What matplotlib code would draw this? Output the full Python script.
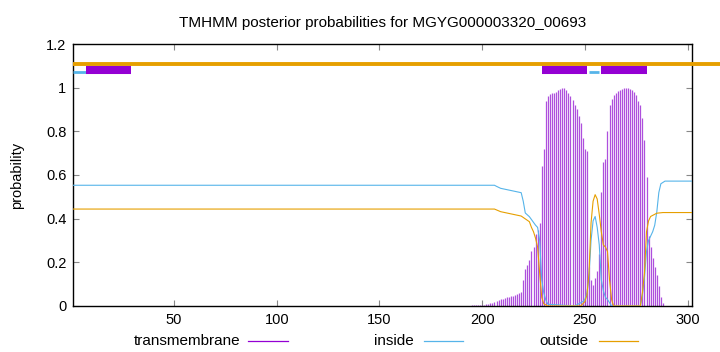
import numpy as np
import matplotlib
matplotlib.use("Agg")
import matplotlib.pyplot as plt
from matplotlib.lines import Line2D
from matplotlib.ticker import FuncFormatter

plt.rcParams["font.family"] = ["Liberation Sans", "DejaVu Sans"]

title = "TMHMM posterior probabilities for MGYG000003320_00693"
seq_len = 302

# predicted topology (drawn as bars above the plot)
tm_segments = [(7, 29), (229, 251), (258, 280)]
inside_segments = [(1, 7), (252, 257)]
outside_segments = [(1, 330)]

# per-residue transmembrane posterior, residues 178..288
tm_first = 178
tm_prob = [
    0.002, 0.002, 0.002, 0.002, 0.002, 0.002, 0.002, 0.002, 0.002, 0.002,
    0.002, 0.002, 0.002, 0.002, 0.002, 0.002, 0.002, 0.003, 0.003, 0.003,
    0.003, 0.004, 0.004,
    0.005, 0.008, 0.010, 0.012, 0.015, 0.018, 0.022, 0.026, 0.030, 0.033,
    0.036, 0.039, 0.042, 0.045, 0.048, 0.052, 0.055, 0.058, 0.062, 0.12,
    0.17, 0.19, 0.21, 0.25, 0.27, 0.33, 0.35, 0.38, 0.64, 0.72,
    0.94, 0.96, 0.97, 0.975, 0.975, 0.98, 0.99, 0.995, 0.997, 0.997,
    0.99, 0.975, 0.96, 0.945, 0.92, 0.90, 0.87, 0.84, 0.77, 0.72,
    0.71, 0.18, 0.12, 0.095, 0.13, 0.16, 0.24, 0.52, 0.66, 0.675,
    0.80, 0.92, 0.95, 0.965, 0.975, 0.985, 0.99, 0.995, 0.997, 0.997,
    0.997, 0.995, 0.99, 0.98, 0.965, 0.94, 0.92, 0.86, 0.76, 0.59,
    0.32, 0.27, 0.22, 0.18, 0.14, 0.09, 0.04, 0.012,
]

inside_pos = [1, 206, 207, 209, 219, 220, 221, 223, 226, 227, 228, 229, 230,
              231, 232, 245, 247, 249, 250, 251, 252, 253, 254, 255, 256, 257,
              258, 259, 260, 261, 262, 263, 277, 278, 279, 280, 281, 282, 283,
              284, 285, 286, 287, 289, 302]
inside_prob = [0.553, 0.553, 0.548, 0.539, 0.519, 0.48, 0.426, 0.409, 0.37,
               0.36, 0.30, 0.12, 0.06, 0.027, 0.008, 0.0, 0.01, 0.02, 0.03,
               0.06, 0.13, 0.30, 0.39, 0.41, 0.36, 0.28, 0.12, 0.07, 0.04,
               0.03, 0.015, 0.0, 0.0, 0.05, 0.13, 0.25, 0.30, 0.32, 0.34,
               0.37, 0.43, 0.52, 0.56, 0.572, 0.572]

outside_pos = [1, 206, 209, 219, 223, 224, 225, 226, 227, 228, 229, 230, 232,
               248, 250, 251, 252, 253, 254, 255, 256, 257, 258, 259, 260,
               261, 262, 263, 264, 277, 278, 279, 280, 281, 282, 283, 285,
               288, 302]
outside_prob = [0.444, 0.444, 0.432, 0.412, 0.386, 0.36, 0.34, 0.31, 0.27,
                0.15, 0.04, 0.01, 0.0, 0.0, 0.02, 0.05, 0.15, 0.38, 0.48,
                0.51, 0.49, 0.42, 0.34, 0.28, 0.27, 0.25, 0.12, 0.03, 0.0,
                0.0, 0.06, 0.15, 0.34, 0.39, 0.41, 0.415, 0.425, 0.428, 0.428]

c_tm = "#9400d3"
c_in = "#56b4e9"
c_out = "#e69f00"

fig = plt.figure(figsize=(7.2, 3.52), dpi=100)
ax = fig.add_axes([0.1018, 0.1307, 0.8589, 0.7443])

tm_res = np.arange(tm_first, tm_first + len(tm_prob))
ax.vlines(tm_res, 0, tm_prob, colors="#a030d8", alpha=0.85, linewidth=0.9,
          zorder=2)
ax.plot(inside_pos, inside_prob, color=c_in, lw=0.8, zorder=3)
ax.plot(outside_pos, outside_prob, color=c_out, lw=0.8, zorder=3)

for a, b in outside_segments:
    ax.plot([a, b], [1.11, 1.11], color=c_out, lw=2.8, solid_capstyle="butt",
            clip_on=False, zorder=4)
for a, b in inside_segments:
    ax.plot([a, b], [1.071, 1.071], color=c_in, lw=2.0, solid_capstyle="butt",
            clip_on=False, zorder=4)
for a, b in tm_segments:
    ax.plot([a, b], [1.083, 1.083], color=c_tm, lw=5.8, solid_capstyle="butt",
            clip_on=False, zorder=5)

ax.set_xlim(1, seq_len)
ax.set_ylim(0, 1.2)
ax.set_xticks([50, 100, 150, 200, 250, 300])
ax.set_yticks([0, 0.2, 0.4, 0.6, 0.8, 1.0, 1.2])
ax.yaxis.set_major_formatter(FuncFormatter(lambda v, p: "%g" % round(v, 1)))
ax.tick_params(direction="in", length=4, width=0.8, color="#888888",
               top=True, right=True, labelsize=10.5, pad=5)
for s in ax.spines.values():
    s.set_linewidth(1.0)
ax.set_ylabel("probability", fontsize=10.5, labelpad=16)
ax.set_title(title, fontsize=11, pad=12)

# legend laid out like gnuplot: right-aligned text then sample line
ly = 1 - 341 / 352
entries = [("transmembrane", c_tm, 240, 248, 288),
           ("inside", c_in, 414, 424, 463),
           ("outside", c_out, 589, 599, 638)]
for label, col, tx, l0, l1 in entries:
    fig.text(tx / 720, ly, label, ha="right", va="center", fontsize=11)
    fig.add_artist(Line2D([l0 / 720, l1 / 720], [ly, ly], color=col, lw=0.9,
                          transform=fig.transFigure))

fig.savefig("out.png", dpi=100)
